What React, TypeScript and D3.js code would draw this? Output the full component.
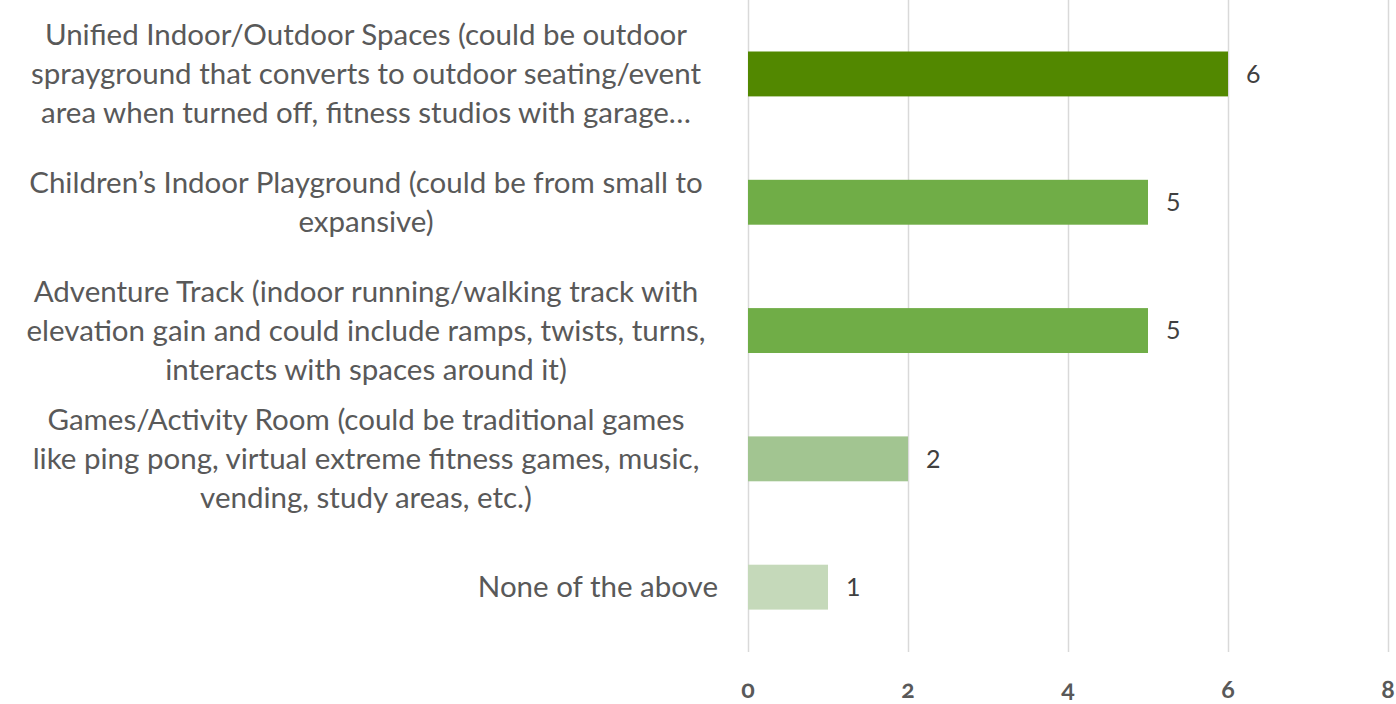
import { useEffect, useRef } from 'react';
import * as d3 from 'd3';

const categories: string[][] = [
  ['Unified Indoor/Outdoor Spaces (could be outdoor', 'sprayground that converts to outdoor seating/event', 'area when turned off, fitness studios with garage…'],
  ['Children’s Indoor Playground (could be from small to', 'expansive)'],
  ['Adventure Track (indoor running/walking track with', 'elevation gain and could include ramps, twists, turns,', 'interacts with spaces around it)'],
  ['Games/Activity Room (could be traditional games', 'like ping pong, virtual extreme fitness games, music,', 'vending, study areas, etc.)'],
  ['None of the above'],
];
const values = [6, 5, 5, 2, 1];
const barColors = ['#528800', '#70ad47', '#70ad47', '#a2c591', '#c5d9ba'];
const xTicks = [0, 2, 4, 6, 8];

export default function App() {
  const svgRef = useRef<SVGSVGElement>(null);

  useEffect(() => {
    if (!svgRef.current) return;
    const svg = d3.select(svgRef.current);
    svg.selectAll('*').remove();

    const W = 1396, H = 704;
    svg.attr('width', W).attr('height', H);

    const x = d3.scaleLinear().domain([0, 8]).range([748, 1388]);
    const y = d3.scaleBand<number>()
      .domain(values.map((_, i) => i))
      .range([9.8, 651.3])
      .paddingInner(0.65)
      .paddingOuter(0.325);

    // grid
    svg.append('g')
      .selectAll('line')
      .data(xTicks)
      .enter().append('line')
      .attr('x1', d => Math.round(x(d)) + 0.5).attr('x2', d => Math.round(x(d)) + 0.5)
      .attr('y1', 0).attr('y2', 652)
      .attr('stroke', '#d9d9d9').attr('stroke-width', 1.5);

    // bars
    svg.append('g')
      .selectAll('rect')
      .data(values)
      .enter().append('rect')
      .attr('x', x(0))
      .attr('y', (_, i) => y(i)!)
      .attr('width', d => x(d) - x(0))
      .attr('height', y.bandwidth())
      .attr('fill', (_, i) => barColors[i]);

    // value labels
    svg.append('g')
      .selectAll('text')
      .data(values)
      .enter().append('text')
      .attr('x', d => x(d) + 18)
      .attr('y', (_, i) => y(i)! + y.bandwidth() / 2)
      .attr('dy', '0.35em')
      .attr('fill', '#404040')
      .attr('font-size', '25px')
      .attr('font-family', 'Lato, sans-serif')
      .text(d => d);

    // category labels
    const lineH = 39;
    const cat = svg.append('g')
      .attr('font-family', 'Lato, sans-serif')
      .attr('font-size', '29.5px')
      .attr('fill', '#595959');
    categories.forEach((lines, i) => {
      const cy = y(i)! + y.bandwidth() / 2;
      const t = cat.append('text')
        .attr('text-anchor', lines.length === 1 ? 'end' : 'middle');
      lines.forEach((ln, j) => {
        t.append('tspan')
          .attr('x', lines.length === 1 ? 718 : 366)
          .attr('y', cy + (j - (lines.length - 1) / 2) * lineH)
          .attr('dy', '0.35em')
          .text(ln);
      });
    });

    // x axis ticks
    svg.append('g')
      .selectAll('text')
      .data(xTicks)
      .enter().append('text')
      .attr('x', d => x(d))
      .attr('y', 689)
      .attr('dy', '0.35em')
      .attr('text-anchor', 'middle')
      .attr('fill', '#595959')
      .attr('font-size', '25px')
      .attr('font-weight', 'bold')
      .attr('font-family', 'Lato, sans-serif')
      .style('font-variant-numeric', 'oldstyle-nums')
      .text(d => d);
  }, []);

  return (
    <div style={{ position: 'absolute', left: 0, top: 0, width: 1396, height: 704, background: '#fff' }}>
      <svg ref={svgRef} style={{ display: 'block' }} />
    </div>
  );
}
